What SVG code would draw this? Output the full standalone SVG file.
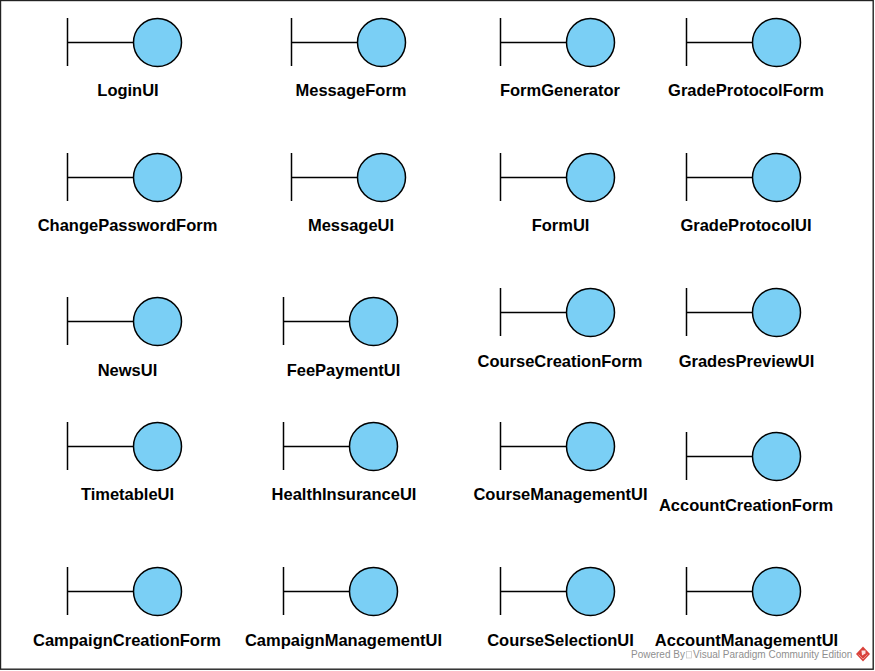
<svg xmlns="http://www.w3.org/2000/svg" width="875" height="671" viewBox="0 0 875 671">
<style>
.b{stroke:#000;stroke-width:1.5;fill:none}
.c{fill:#7acff5;stroke:#000;stroke-width:1.5}
.l{font:bold 16.5px "Liberation Sans",Arial,sans-serif;text-anchor:middle;fill:#000}
.w{font:10px "Liberation Sans",Arial,sans-serif;fill:#8f8f8f}
</style>
<defs>
<g id="boundary">
<path class="b" d="M0.5 0V48M0.5 24.5H66"/>
<circle class="c" cx="90.5" cy="24.5" r="24"/>
</g>
</defs>
<rect width="875" height="671" fill="#fff"/>
<rect x="0.5" y="0.5" width="872.7" height="668.7" fill="#fff" stroke="#222" stroke-width="1.4"/>
<g id="connectors"/>
<g id="n1"><use href="#boundary" x="67" y="18"/><text class="l" x="128" y="96">LoginUI</text></g>
<g id="n2"><use href="#boundary" x="291" y="18"/><text class="l" x="351" y="96">MessageForm</text></g>
<g id="n3"><use href="#boundary" x="500" y="18"/><text class="l" x="560" y="96">FormGenerator</text></g>
<g id="n4"><use href="#boundary" x="686" y="18"/><text class="l" x="746" y="96">GradeProtocolForm</text></g>
<g id="n5"><use href="#boundary" x="67" y="153"/><text class="l" x="127.500" y="231">ChangePasswordForm</text></g>
<g id="n6"><use href="#boundary" x="291" y="153"/><text class="l" x="351" y="231">MessageUI</text></g>
<g id="n7"><use href="#boundary" x="500" y="153"/><text class="l" x="560.500" y="231">FormUI</text></g>
<g id="n8"><use href="#boundary" x="686" y="153"/><text class="l" x="746" y="231">GradeProtocolUI</text></g>
<g id="n9"><use href="#boundary" x="67" y="297"/><text class="l" x="127.500" y="376">NewsUI</text></g>
<g id="n10"><use href="#boundary" x="283" y="297"/><text class="l" x="343.500" y="376">FeePaymentUI</text></g>
<g id="n11"><use href="#boundary" x="500" y="288"/><text class="l" x="560" y="367">CourseCreationForm</text></g>
<g id="n12"><use href="#boundary" x="686" y="288"/><text class="l" x="746.500" y="367">GradesPreviewUI</text></g>
<g id="n13"><use href="#boundary" x="67" y="422"/><text class="l" x="127.500" y="500">TimetableUI</text></g>
<g id="n14"><use href="#boundary" x="283" y="422"/><text class="l" x="344" y="500">HealthInsuranceUI</text></g>
<g id="n15"><use href="#boundary" x="500" y="422"/><text class="l" x="560.500" y="500">CourseManagementUI</text></g>
<g id="n16"><use href="#boundary" x="686" y="432"/><text class="l" x="746" y="511">AccountCreationForm</text></g>
<g id="n17"><use href="#boundary" x="67" y="567"/><text class="l" x="127" y="646">CampaignCreationForm</text></g>
<g id="n18"><use href="#boundary" x="283" y="567"/><text class="l" x="343.500" y="646">CampaignManagementUI</text></g>
<g id="n19"><use href="#boundary" x="500" y="567"/><text class="l" x="560.500" y="646">CourseSelectionUI</text></g>
<g id="n20"><use href="#boundary" x="686" y="567"/><text class="l" x="746.500" y="646">AccountManagementUI</text></g>
<g id="watermark">
<text class="w" x="631" y="658">Powered By</text>
<rect x="686.500" y="651.500" width="5" height="6.500" fill="none" stroke="#c4c4c4" stroke-width="0.7"/>
<text class="w" x="693" y="658">Visual Paradigm Community Edition</text>
<path d="M863 646.500L870 654L863 661.500L856 654Z" fill="#d9413a"/>
<path d="M861.500 650.500H865.500V653.500L862 655.500Z" fill="#fff" opacity="0.85"/>
<path d="M858.500 654.500L863 659L867.500 654.500" fill="none" stroke="#fff" stroke-width="0.6" opacity="0.7"/>
</g>
</svg>
